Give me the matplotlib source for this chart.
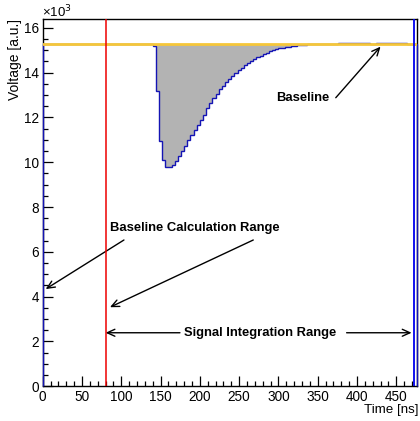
import numpy as np
import matplotlib
matplotlib.use("Agg")
import matplotlib.pyplot as plt
from matplotlib.ticker import MultipleLocator, FuncFormatter

plt.rcParams['font.family'] = ['Liberation Sans', 'DejaVu Sans']

# ---- data ----
bin_width = 4  # ns
pre_pulse = [15290, 15280, 15285, 15290, 15280, 15285, 15290, 15285, 15280, 15290,
             15285, 15290, 15280, 15285, 15290, 15285, 15280, 15290, 15285, 15290,
             15280, 15285, 15290, 15285, 15280, 15290, 15285, 15290, 15280, 15285,
             15290, 15285, 15280, 15290, 15285]
pulse = [15200, 13200, 10960, 10100, 9780, 9780, 9880, 10050, 10270, 10500,
         10740, 10980, 11220, 11460, 11680, 11900, 12120, 12400, 12650, 12860,
         13050, 13250, 13420, 13570, 13720, 13850, 13980, 14100, 14220, 14320,
         14420, 14520, 14600, 14680, 14760, 14830, 14890, 14950, 15000, 15040,
         15080, 15110, 15140, 15160, 15180, 15200, 15220, 15240, 15250, 15260,
         15270, 15280]
post_pulse = [15285, 15290, 15285, 15290, 15280, 15290, 15285,
              15305, 15300, 15305, 15300, 15305, 15300, 15305, 15300, 15305, 15300,
              15290, 15285,
              15305, 15300, 15305, 15300, 15305, 15300, 15305, 15300, 15305, 15300,
              15290, 15285, 15290]
baseline_value = 15280
baseline_range_end = 80      # ns
integration_end = 472        # ns
x_max = 476
y_max = 16380

values = np.array(pre_pulse + pulse + post_pulse, dtype=float)
edges = np.arange(len(values) + 1) * bin_width

# ---- figure ----
fig = plt.figure(figsize=(4.2, 4.21), dpi=100)
ax = fig.add_axes([42.7 / 420, 34.7 / 421, 374 / 420, 367 / 421])

base_arr = np.full(len(values), baseline_value, dtype=float)
ax.stairs(base_arr, edges, baseline=np.minimum(values, base_arr), fill=True,
          color='#b3b3b3', lw=0, zorder=1)
ax.stairs(values, edges, baseline=0, color='#1414b4', lw=1.0, zorder=3, clip_on=False)
ax.axhline(baseline_value, color='#f5c63a', lw=2.0, zorder=4)
ax.axvline(baseline_range_end, color='#ee0000', lw=1.1, zorder=4)
ax.axvline(integration_end, color='#0000ee', lw=1.3, zorder=4)

ax.set_xlim(0, x_max)
ax.set_ylim(0, y_max)

ax.xaxis.set_major_locator(MultipleLocator(50))
ax.xaxis.set_minor_locator(MultipleLocator(10))
ax.yaxis.set_major_locator(MultipleLocator(2000))
ax.yaxis.set_minor_locator(MultipleLocator(500))
ax.yaxis.set_major_formatter(FuncFormatter(lambda v, p: f"{v/1000:g}"))
ax.tick_params(which='both', direction='in', top=False, right=False, labelsize=9.8, width=0.9)
ax.tick_params(which='major', length=7.5)
ax.tick_params(which='minor', length=3.8)
ax.tick_params(axis='x', pad=3.0)
ax.tick_params(axis='y', pad=2.5)
for s in ax.spines.values():
    s.set_linewidth(1.0)

fig.text(42 / 420, 1 - 17 / 421, "×10$^3$", fontsize=9.5, ha='left', va='baseline')
fig.text(15 / 420, 1 - 19 / 421, "Voltage [a.u.]", fontsize=10, rotation=90, ha='center', va='top')
fig.text(419 / 420, 1 - 410 / 421, "Time [ns]", fontsize=9.6, ha='right', va='center')

arrow = dict(arrowstyle='->,head_length=0.55,head_width=0.25', color='black', lw=1.0,
             shrinkA=0, shrinkB=0)
bold = dict(fontsize=9.4, fontweight='bold', zorder=5)

ax.annotate('', xy=(430, 15160), xytext=(373, 12880), arrowprops=arrow)
ax.text(297.7, 12860, "Baseline", ha='left', va='center', **bold)

ax.text(85.6, 7070, "Baseline Calculation Range", ha='left', va='center', **bold)
ax.annotate('', xy=(3.8, 4340), xytext=(103.4, 6530), arrowprops=arrow)
ax.annotate('', xy=(85.6, 3530), xytext=(268, 6530), arrowprops=arrow)

ax.text(179.8, 2390, "Signal Integration Range", ha='left', va='center', **bold)
ax.annotate('', xy=(baseline_range_end, 2390), xytext=(174.7, 2390), arrowprops=arrow)
ax.annotate('', xy=(469.5, 2390), xytext=(386.8, 2390), arrowprops=arrow)

fig.savefig("out.png", dpi=100)
